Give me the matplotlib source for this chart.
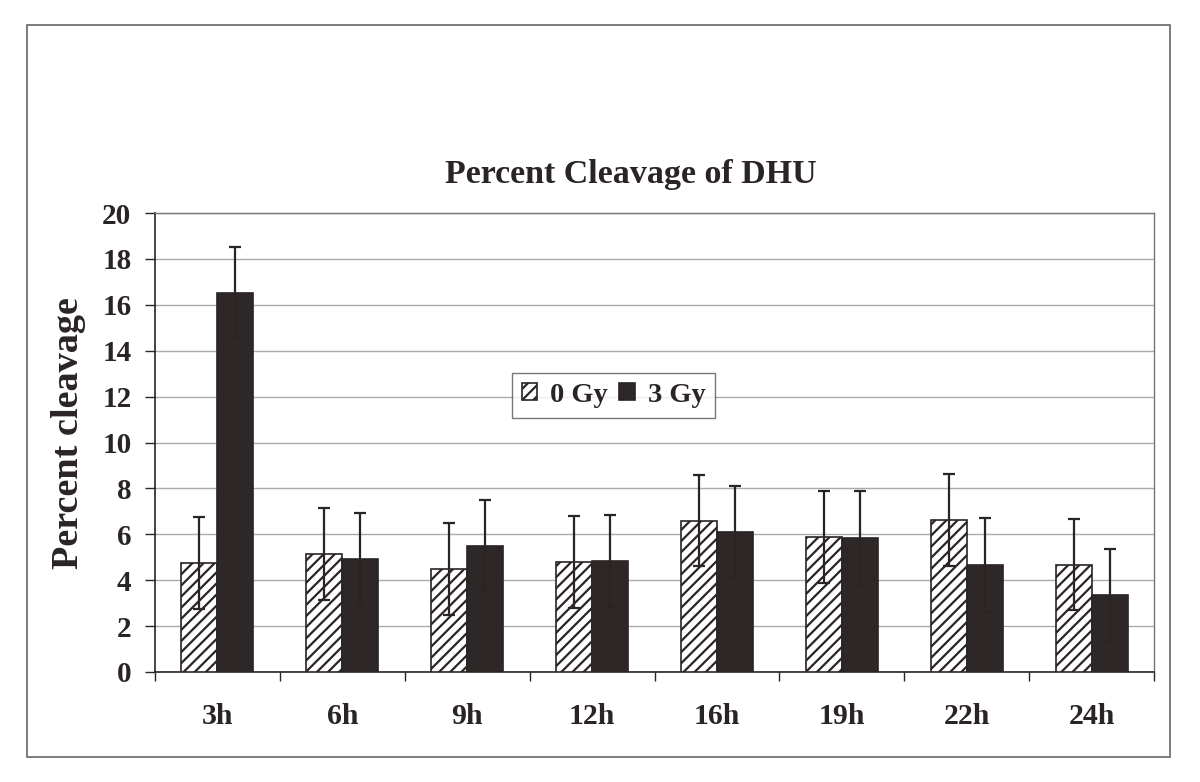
import numpy as np
import matplotlib
matplotlib.use("Agg")
import matplotlib.pyplot as plt
from matplotlib.patches import Rectangle, Patch

# values
times = ["3h", "6h", "9h", "12h", "16h", "19h", "22h", "24h"]
gy0 = [4.75, 5.15, 4.5, 4.78, 6.6, 5.88, 6.62, 4.68]
gy3 = [16.5, 4.93, 5.5, 4.85, 6.12, 5.82, 4.67, 3.35]
err0 = [2.0, 2.0, 2.0, 2.0, 2.0, 2.0, 2.0, 2.0]
err3 = [2.0, 2.0, 2.0, 2.0, 2.0, 2.05, 2.05, 2.0]
yticks = [0, 2, 4, 6, 8, 10, 12, 14, 16, 18, 20]

INK = "#2a2424"
DARK = "#2d2727"

plt.rcParams["font.family"] = ["Liberation Serif", "DejaVu Serif"]
plt.rcParams["font.weight"] = "bold"
plt.rcParams["hatch.linewidth"] = 1.6
plt.rcParams["hatch.color"] = INK

fig = plt.figure(figsize=(12, 7.82), dpi=100)
ax = fig.add_axes([155 / 1200, 1 - 672 / 782, 999 / 1200, 459 / 782])

x = np.arange(len(times))
w = 0.288
ax.bar(x - w / 2, gy0, w, color="white", edgecolor=INK, hatch="///",
       linewidth=1.2, zorder=3, label="0 Gy")
ax.bar(x + w / 2, gy3, w, color=DARK, edgecolor=INK, linewidth=1.2,
       zorder=3, label="3 Gy")
ax.errorbar(x - w / 2, gy0, yerr=err0, fmt="none", ecolor=INK,
            elinewidth=1.6, capsize=4, capthick=1.6, zorder=4)
ax.errorbar(x + w / 2, gy3, yerr=err3, fmt="none", ecolor=INK,
            elinewidth=1.6, capsize=4, capthick=1.6, zorder=4)

ax.set_xlim(-0.5, len(times) - 0.5)
ax.set_ylim(0, 20)
ax.set_yticks(yticks)
ax.yaxis.grid(True, color="#aaaaaa", linewidth=1.0, zorder=0)
ax.set_axisbelow(True)

# category boundary ticks + centered labels
ax.set_xticks(np.arange(len(times) + 1) - 0.5)
ax.set_xticklabels([])
ax.set_xticks(x, minor=True)
ax.set_xticklabels(times, minor=True, fontsize=21.5, fontweight="bold", color=INK)
ax.tick_params(axis="x", which="major", length=6.5, width=1, color=INK, direction="out")
ax.tick_params(axis="x", which="minor", length=0, pad=22)
ax.tick_params(axis="y", length=7, width=1, color=INK, pad=10,
               labelsize=21, labelcolor=INK)
for lab in ax.get_yticklabels():
    lab.set_fontweight("bold")

for side in ["left", "bottom"]:
    ax.spines[side].set_color(INK)
    ax.spines[side].set_linewidth(1.2)
for side in ["top", "right"]:
    ax.spines[side].set_color("#777777")
    ax.spines[side].set_linewidth(1.0)

handles = [Patch(facecolor="white", edgecolor=INK, hatch="///", linewidth=1.2),
           Patch(facecolor=DARK, edgecolor=INK, linewidth=1.2)]
leg = ax.legend(handles, ["0 Gy", "3 Gy"], ncol=2, loc="center",
                bbox_to_anchor=(0.459, 0.603), frameon=True, fancybox=False,
                handlelength=0.55, handleheight=0.55, handletextpad=0.45,
                columnspacing=0.4, borderpad=0.35, borderaxespad=0,
                prop={"size": 20.5, "weight": "bold"})
leg.get_frame().set_edgecolor("#555555")
leg.get_frame().set_linewidth(1.0)
for t in leg.get_texts():
    t.set_color(INK)

fig.text(631 / 1200, 1 - 175 / 782, "Percent Cleavage of DHU", ha="center",
         va="center", fontsize=24.5, fontweight="bold", color=INK)
fig.text(69 / 1200, 1 - 433 / 782, "Percent cleavage", ha="center",
         va="center", rotation=90, fontsize=27.5, fontweight="bold", color=INK)

# outer chart border
fig.patches.append(Rectangle((27 / 1200, 1 - 757 / 782), 1143 / 1200, 732 / 782,
                             transform=fig.transFigure, fill=False,
                             edgecolor="#666666", linewidth=1.2))

fig.savefig("out.png", dpi=100, facecolor="white")
